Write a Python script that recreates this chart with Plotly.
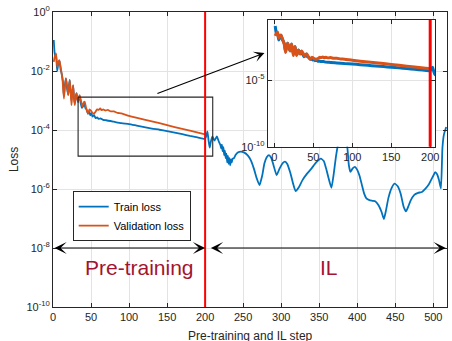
import plotly.graph_objects as go

# ---- data -------------------------------------------------------------
train_steps = [
    1, 2, 3, 4, 5.5, 7, 8.5, 10, 11.5, 13, 14.3, 15.5, 17, 18.5, 20, 21, 22,
    23.3, 24.3, 25.5, 26.5, 27.5, 28.6, 30, 31, 32, 33, 34, 35, 36.5, 38, 39.5,
    41, 42.5, 44, 46, 47.5, 49, 50.5, 52, 54, 56, 58, 60, 63, 66, 70, 80, 90,
    100, 110, 120, 130, 140, 150, 160, 170, 180, 190, 199,
    200, 201.5, 203, 204.5, 206, 207.5, 209.5, 211, 212.5, 214, 215.5, 217,
    218.5, 220, 221, 222, 223, 224, 225, 226, 227, 228, 229, 230, 231, 232,
    233, 234, 235, 236, 238, 240, 243, 247, 251, 256, 260, 264, 268, 271.5,
    275, 278, 281, 284, 287, 290, 294, 298, 302, 305, 308, 312, 316, 319, 323,
    328, 334, 340, 346, 352, 356, 359, 362, 366, 369, 372, 375, 378, 381, 384,
    387, 389, 391, 394, 397, 400, 403, 406, 409, 412, 416, 420, 424, 428, 432,
    435, 438, 441, 445, 449, 453, 457, 461, 464, 467, 470, 475, 480, 485, 490,
    494, 497, 500, 502.5, 505, 507.5, 510, 512, 514, 517,
]
train_loss = [
    1.12e-1, 4.47e-2, 2.82e-2, 3.55e-2, 1.00e-2, 1.78e-2, 2.24e-2, 1.12e-2,
    7.94e-3, 4.47e-3, 1.41e-3, 3.16e-3, 5.62e-3, 2.51e-3, 1.58e-3, 3.16e-3,
    5.01e-3, 1.78e-3, 1.00e-3, 2.00e-3, 3.16e-3, 1.26e-3, 7.94e-4, 1.41e-3,
    1.78e-3, 1.12e-3, 8.91e-4, 1.26e-3, 1.41e-3, 7.94e-4, 5.62e-4, 6.31e-4,
    8.91e-4, 5.62e-4, 5.01e-4, 3.55e-4, 4.17e-4, 3.16e-4, 3.80e-4, 2.82e-4,
    3.16e-4, 2.51e-4, 2.69e-4, 2.40e-4, 2.45e-4, 2.19e-4, 2.14e-4, 1.91e-4,
    1.70e-4, 1.58e-4, 1.41e-4, 1.26e-4, 1.12e-4, 1.02e-4, 9.12e-5, 8.13e-5,
    7.24e-5, 6.31e-5, 5.62e-5, 5.01e-5,
    5.13e-5, 6.31e-5, 8.91e-5, 4.47e-5, 2.51e-5, 3.98e-5, 6.03e-5, 5.01e-5,
    4.37e-5, 5.25e-5, 6.03e-5, 4.79e-5, 3.80e-5, 3.16e-5, 2.40e-5, 3.16e-5,
    1.91e-5, 2.63e-5, 1.41e-5, 2.00e-5, 1.12e-5, 1.58e-5, 7.94e-6, 1.32e-5,
    7.08e-6, 1.12e-5, 6.31e-6, 1.00e-5, 7.94e-6, 1.05e-5, 1.12e-5, 1.41e-5,
    1.74e-5, 1.86e-5, 1.74e-5, 1.38e-5, 9.55e-6, 5.01e-6, 2.24e-6, 1.35e-6,
    2.82e-6, 7.41e-6, 1.20e-5, 1.41e-5, 1.12e-5, 6.31e-6, 2.95e-6, 5.01e-6,
    7.59e-6, 8.51e-6, 7.08e-6, 3.55e-6, 1.41e-6, 8.51e-7, 1.12e-6, 2.00e-6,
    3.31e-6, 5.01e-6, 7.94e-6, 1.07e-5, 8.91e-6, 5.01e-6, 2.51e-6, 1.10e-6,
    3.16e-6, 1.26e-5, 3.55e-5, 7.94e-5, 1.12e-4, 7.94e-5, 2.51e-5, 6.31e-6,
    3.80e-6, 5.01e-6, 5.62e-6, 4.47e-6, 2.82e-6, 1.41e-6, 7.08e-7, 4.79e-7,
    4.17e-7, 3.98e-7, 3.80e-7, 2.82e-7, 1.66e-7, 9.55e-8, 2.00e-7, 5.01e-7,
    1.05e-6, 1.51e-6, 1.26e-6, 7.08e-7, 2.51e-7, 1.74e-7, 2.51e-7, 3.98e-7,
    6.31e-7, 7.41e-7, 7.94e-7, 1.05e-6, 1.41e-6, 2.00e-6, 2.82e-6, 3.72e-6,
    3.16e-6, 2.00e-6, 1.05e-6, 2.51e-5, 7.08e-5, 1.26e-4,
]

val_steps = [
    1, 2, 3.9, 5.6, 7, 8.2, 10, 11.3, 12.5, 14.3, 15.5, 17, 18.5, 20, 21, 22,
    23.2, 24.3, 25.3, 26.4, 27.5, 28.6, 29.7, 30.8, 32, 33, 34, 35, 36.8, 38.6,
    40, 41.6, 43.5, 46, 48, 50, 52, 54, 56, 58, 60, 62, 64, 66, 69, 72, 76, 80,
    85, 90, 100, 120, 140, 160, 180, 200,
]
val_loss = [
    2.04e-2, 2.82e-2, 3.98e-2, 1.38e-2, 2.00e-2, 2.34e-2, 1.41e-2, 8.32e-3,
    5.01e-3, 1.17e-3, 2.51e-3, 5.62e-3, 3.16e-3, 1.51e-3, 2.82e-3, 4.90e-3,
    2.00e-3, 6.92e-4, 1.58e-3, 3.31e-3, 1.41e-3, 6.92e-4, 1.12e-3, 1.74e-3,
    1.26e-3, 9.12e-4, 1.26e-3, 1.51e-3, 1.00e-3, 6.17e-4, 7.94e-4, 9.12e-4,
    5.62e-4, 3.63e-4, 5.01e-4, 4.47e-4, 3.80e-4, 3.55e-4, 4.17e-4, 5.01e-4,
    4.79e-4, 5.37e-4, 4.68e-4, 5.01e-4, 4.57e-4, 4.79e-4, 4.27e-4, 4.27e-4,
    3.80e-4, 3.63e-4, 3.02e-4, 2.24e-4, 1.70e-4, 1.26e-4, 9.55e-5, 7.08e-5,
]

x_ticks = [0, 50, 100, 150, 200, 250, 300, 350, 400, 450, 500]
y_tick_vals = [1e0, 1e-2, 1e-4, 1e-6, 1e-8, 1e-10]
y_tick_text = ["10<sup>0</sup>", "10<sup>-2</sup>", "10<sup>-4</sup>",
               "10<sup>-6</sup>", "10<sup>-8</sup>", "10<sup>-10</sup>"]
inset_x_ticks = [0, 50, 100, 150, 200]
inset_y_tick_vals = [1e-5, 1e-10]
inset_y_tick_text = ["10<sup>-5</sup>", "10<sup>-10</sup>"]

il_start = 200
phase_labels = ["Pre-training", "IL"]

# zoomed region outline (step range, loss range)
zoom_box_x = [33, 210]
zoom_box_y = [1.3e-5, 1.3e-3]

# ---- style ------------------------------------------------------------
BLUE = "#0072BD"
ORANGE = "#D95319"
AXC = "#262626"
GRID = "#e3e3e3"
FONT = "Liberation Sans, Arial, sans-serif"
PHASE_COLOR = "#A2142F"

fig = go.Figure()

# main axes curves
fig.add_trace(go.Scatter(x=train_steps, y=train_loss, mode="lines",
                         name="Train loss",
                         line=dict(color=BLUE, width=1.8, shape="spline", smoothing=0.5),
                         xaxis="x", yaxis="y"))
fig.add_trace(go.Scatter(x=val_steps, y=val_loss, mode="lines",
                         name="Validation loss",
                         line=dict(color=ORANGE, width=1.8, shape="spline", smoothing=0.5),
                         xaxis="x", yaxis="y"))

# zoom box outline
fig.add_trace(go.Scatter(
    x=[zoom_box_x[0], zoom_box_x[1], zoom_box_x[1], zoom_box_x[0], zoom_box_x[0]],
    y=[zoom_box_y[1], zoom_box_y[1], zoom_box_y[0], zoom_box_y[0], zoom_box_y[1]],
    mode="lines", line=dict(color=AXC, width=1.1), showlegend=False,
    hoverinfo="skip", xaxis="x", yaxis="y"))

# inset curves
fig.add_trace(go.Scatter(x=train_steps, y=train_loss, mode="lines", showlegend=False,
                         line=dict(color=BLUE, width=3, shape="spline", smoothing=0.5),
                         xaxis="x2", yaxis="y2"))
fig.add_trace(go.Scatter(x=val_steps, y=val_loss, mode="lines", showlegend=False,
                         line=dict(color=ORANGE, width=3, shape="spline", smoothing=0.5),
                         xaxis="x2", yaxis="y2"))

# phase boundary lines
fig.add_shape(type="line", xref="x", yref="y domain", x0=il_start, x1=il_start,
              y0=0, y1=1, line=dict(color="#ff0000", width=2))
fig.add_shape(type="line", xref="x2", yref="y2 domain", x0=il_start, x1=il_start,
              y0=0, y1=1, line=dict(color="#ff0000", width=3))

axis_common = dict(
    ticks="inside", ticklen=4, tickcolor=AXC, tickwidth=1,
    showline=True, linecolor=AXC, linewidth=1, mirror="ticks",
    showgrid=True, gridcolor=GRID, gridwidth=1, zeroline=False,
    tickfont=dict(family=FONT, size=11, color=AXC),
)

fig.update_layout(
    width=452, height=341,
    margin=dict(l=53, r=1, t=12, b=34),
    paper_bgcolor="white", plot_bgcolor="white",
    font=dict(family=FONT, size=11, color=AXC),
    xaxis=dict(domain=[0, 1], range=[0, 518], tickvals=x_ticks, anchor="y",
               **axis_common),
    yaxis=dict(domain=[0, 1], type="log", range=[-10, 0], tickvals=y_tick_vals,
               ticktext=y_tick_text, anchor="x", **axis_common),
    xaxis2=dict(domain=[0.5452, 0.9706], range=[-8.5, 206.7], tickvals=inset_x_ticks,
                anchor="y2", **axis_common),
    yaxis2=dict(domain=[0.5434, 0.9729], type="log", range=[-10, -0.5],
                tickvals=inset_y_tick_vals, ticktext=inset_y_tick_text,
                anchor="x2", **axis_common),
    legend=dict(x=0.05, y=0.393, xanchor="left", yanchor="top",
                bgcolor="white", bordercolor=AXC, borderwidth=1,
                font=dict(family=FONT, size=11, color="#000000"),
                tracegroupgap=0),
    showlegend=True,
)

annotations = [
    # axis titles
    dict(text="Pre-training and IL step", xref="paper", yref="paper",
         x=0.5, y=-0.099, xanchor="center", yanchor="middle", showarrow=False,
         font=dict(family=FONT, size=12, color=AXC)),
    dict(text="Loss", xref="paper", yref="paper", x=-0.1, y=0.5, textangle=-90,
         xanchor="center", yanchor="middle", showarrow=False,
         font=dict(family=FONT, size=12, color=AXC)),
    # phase extent arrows
    dict(text="", xref="x", yref="y", axref="x", ayref="y",
         x=il_start, y=-8, ax=0, ay=-8, showarrow=True, arrowside="end+start",
         arrowhead=3, startarrowhead=3, arrowsize=1.7, startarrowsize=1.7,
         arrowwidth=1.2, arrowcolor="#000000", standoff=0, startstandoff=0),
    dict(text="", xref="x", yref="y", axref="x", ayref="y",
         x=516.5, y=-8, ax=205.6, ay=-8, showarrow=True, arrowside="end+start",
         arrowhead=3, startarrowhead=3, arrowsize=1.7, startarrowsize=1.7,
         arrowwidth=1.2, arrowcolor="#000000", standoff=0, startstandoff=0),
    # phase names
    dict(text=phase_labels[0], xref="x", yref="y", x=113.8, y=-8.65,
         showarrow=False, xanchor="center", yanchor="middle",
         font=dict(family=FONT, size=21, color=PHASE_COLOR)),
    dict(text=phase_labels[1], xref="x", yref="y", x=362.6, y=-8.65,
         showarrow=False, xanchor="center", yanchor="middle",
         font=dict(family=FONT, size=21, color=PHASE_COLOR)),
    # pointer from zoom box to inset
    dict(text="", xref="x", yref="y", axref="x", ayref="y",
         x=278, y=-1.39, ax=135.3, ay=-2.78, showarrow=True,
         arrowhead=3, arrowsize=1.6, arrowwidth=1.1, arrowcolor="#000000",
         standoff=0),
]
fig.update_layout(annotations=annotations)

fig.write_html("out.html")
